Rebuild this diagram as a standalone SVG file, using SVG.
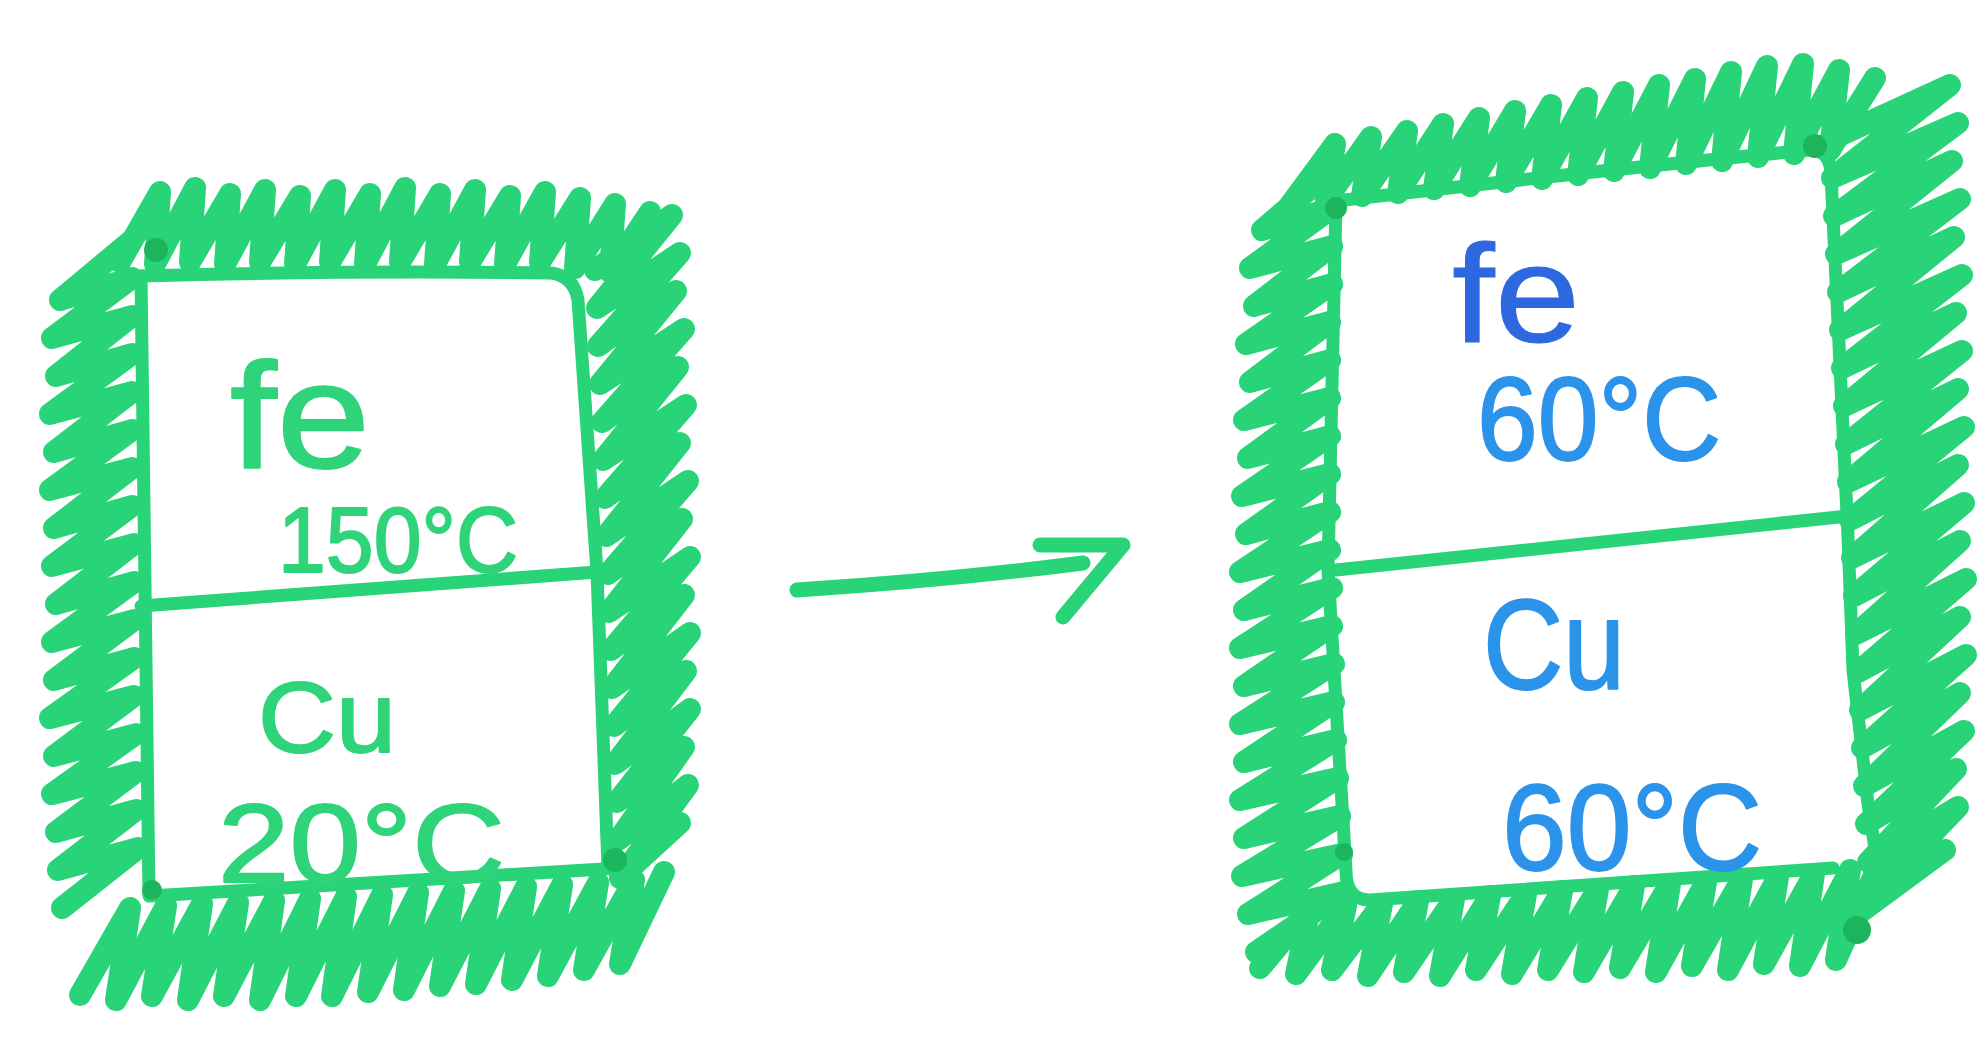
<svg xmlns="http://www.w3.org/2000/svg" width="1988" height="1051" viewBox="0 0 1988 1051">
<style>
.hatch{fill:none;stroke:#29d377;stroke-width:22;stroke-linecap:round;stroke-linejoin:round}
.pen{fill:none;stroke:#29d377;stroke-width:13;stroke-linecap:round;stroke-linejoin:round}
.blob{fill:#1cb55c}
.arrow{fill:none;stroke:#29d377;stroke-width:15;stroke-linecap:round;stroke-linejoin:round}
.tg{font-family:"Liberation Sans",Arial,sans-serif;fill:#2fd47a;stroke:#2fd47a;stroke-width:2;stroke-linejoin:round}
.tb{font-family:"Liberation Sans",Arial,sans-serif;fill:#2c93ea;stroke:#2c93ea;stroke-width:2;stroke-linejoin:round}
.tbd{font-family:"Liberation Sans",Arial,sans-serif;fill:#2d68e0;stroke:#2d68e0;stroke-width:1;stroke-linejoin:round}
</style>
<rect width="1988" height="1051" fill="#ffffff"/>

<g id="box-before">
  <path class="hatch" d="M120 262 L160 192 L155 264 L195 188 L190 262 L230 194 L225 264 L265 190 L260 262 L300 196 L295 264 L335 190 L330 262 L370 194 L365 264 L405 188 L400 262 L440 194 L435 264 L475 190 L470 262 L510 196 L505 264 L545 192 L540 262 L580 198 L575 268 L615 204 L610 272 L650 212"/>
  <path class="hatch" d="M132 240 L60 300 L132 278 L52 338 L132 316 L56 376 L132 354 L50 414 L132 392 L54 452 L132 430 L50 490 L132 468 L54 528 L132 506 L52 566 L134 544 L56 604 L134 582 L52 642 L134 620 L54 680 L134 658 L50 718 L134 696 L54 756 L136 734 L52 794 L136 772 L56 832 L136 810 L58 870 L138 848 L62 908"/>
  <path class="hatch" d="M595 270 L672 215 L597 308 L680 253 L598 346 L676 291 L600 384 L684 329 L602 422 L678 367 L603 460 L686 405 L605 498 L680 443 L606 536 L688 481 L608 574 L682 519 L609 612 L690 557 L611 650 L684 595 L612 688 L690 633 L614 726 L686 671 L615 764 L690 709 L617 802 L684 747 L618 840 L688 785 L620 878 L680 823"/>
  <path class="hatch" d="M80 995 L130 908 L116 1000 L166 906 L152 996 L202 904 L188 1000 L238 903 L224 996 L274 901 L260 1000 L310 899 L296 996 L346 897 L332 996 L382 895 L368 992 L418 893 L404 990 L454 891 L440 986 L490 889 L476 984 L526 887 L512 980 L562 885 L548 976 L598 883 L584 970 L634 880 L620 964 L664 872"/>
  <path class="pen" d="M141 276 Q 360 270 551 273 Q 574 276 578 300 L597 572 L608 868"/>
  <path class="pen" d="M141 276 L149 896 L620 868"/>
  <path class="pen" d="M141 606 L597 572"/>
  <circle class="blob" cx="156" cy="250" r="12"/>
  <circle class="blob" cx="152" cy="890" r="10"/>
  <circle class="blob" cx="615" cy="860" r="12"/>
  <text class="tg" x="230" y="468" font-size="150" textLength="140" lengthAdjust="spacingAndGlyphs">fe</text>
  <text class="tg" x="278" y="572" font-size="92" textLength="240" lengthAdjust="spacingAndGlyphs">150°C</text>
  <text class="tg" x="258" y="752" font-size="100" textLength="138" lengthAdjust="spacingAndGlyphs">Cu</text>
  <text class="tg" x="218" y="882" font-size="112" textLength="287" lengthAdjust="spacingAndGlyphs">20°C</text>
</g>

<g id="connectors">
  <path class="arrow" d="M797 590 Q 950 580 1083 563"/>
  <path class="arrow" d="M1040 545 L1123 545 L1063 617"/>
</g>

<g id="box-after">
  <path class="hatch" d="M1290 205 L1335 144 L1326 200 L1371 137 L1362 196 L1407 131 L1398 193 L1443 124 L1434 189 L1479 118 L1470 186 L1515 111 L1506 182 L1551 105 L1542 179 L1587 98 L1578 175 L1623 92 L1614 171 L1659 85 L1650 168 L1695 79 L1686 164 L1731 72 L1722 161 L1767 66 L1758 157 L1803 64 L1794 154 L1839 70 L1830 150 L1875 78"/>
  <path class="hatch" d="M1332 170 L1262 230 L1332 208 L1250 268 L1332 246 L1254 306 L1332 284 L1246 344 L1330 322 L1250 382 L1330 360 L1244 420 L1330 398 L1248 458 L1330 436 L1242 496 L1330 474 L1246 534 L1330 512 L1240 572 L1330 550 L1244 610 L1332 588 L1240 648 L1332 626 L1244 686 L1334 664 L1240 724 L1334 702 L1244 762 L1336 740 L1240 800 L1338 778 L1244 838 L1340 816 L1242 876 L1342 854 L1248 914 L1344 892 L1256 952"/>
  <path class="hatch" d="M1830 140 L1950 85 L1832 178 L1958 123 L1834 216 L1952 161 L1836 254 L1960 199 L1838 292 L1954 237 L1840 330 L1962 275 L1842 368 L1956 313 L1844 406 L1962 351 L1846 444 L1958 389 L1848 482 L1964 427 L1850 520 L1958 465 L1852 558 L1964 503 L1854 596 L1960 541 L1856 634 L1966 579 L1858 672 L1960 617 L1860 710 L1966 655 L1862 748 L1960 693 L1864 786 L1964 731 L1866 824 L1956 769 L1868 862 L1958 807 L1850 920 L1945 850"/>
  <path class="hatch" d="M1260 968 L1310 908 L1296 974 L1346 906 L1332 970 L1382 904 L1368 976 L1418 901 L1404 972 L1454 899 L1440 976 L1490 896 L1476 970 L1526 894 L1512 974 L1562 891 L1548 970 L1598 889 L1584 972 L1634 886 L1620 968 L1670 884 L1656 972 L1706 882 L1692 966 L1742 879 L1728 970 L1778 877 L1764 964 L1814 874 L1800 966 L1850 870 L1836 960 L1880 862"/>
  <path class="pen" d="M1336 201 Q 1600 170 1810 150 Q 1830 150 1831 174 L1848 536 L1853 670 L1868 804 L1876 855"/>
  <path class="pen" d="M1336 201 L1328 570 L1338 737 L1346 871 Q 1346 900 1370 900 L1833 868"/>
  <path class="pen" d="M1336 570 L1848 516"/>
  <circle class="blob" cx="1336" cy="208" r="11"/>
  <circle class="blob" cx="1815" cy="146" r="12"/>
  <circle class="blob" cx="1344" cy="852" r="9"/>
  <circle class="blob" cx="1857" cy="930" r="14"/>
  <text class="tbd" x="1452" y="342" font-size="140" textLength="128" lengthAdjust="spacingAndGlyphs">fe</text>
  <text class="tb" x="1477" y="460" font-size="118" textLength="244" lengthAdjust="spacingAndGlyphs">60°C</text>
  <text class="tb" x="1483" y="689" font-size="128" textLength="142" lengthAdjust="spacingAndGlyphs">Cu</text>
  <text class="tb" x="1502" y="870" font-size="122" textLength="260" lengthAdjust="spacingAndGlyphs">60°C</text>
</g>
</svg>
